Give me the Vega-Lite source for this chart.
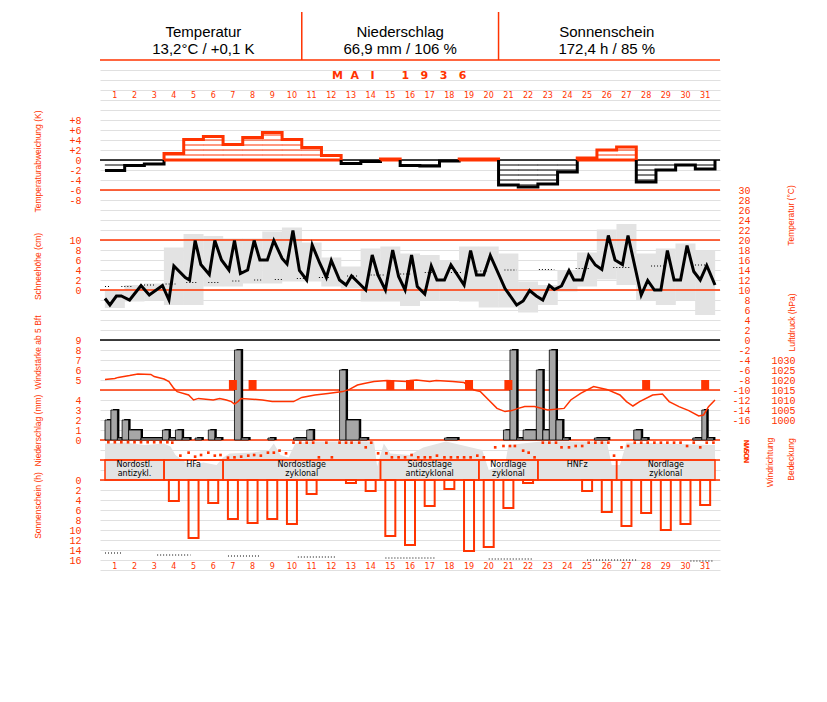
{
"$schema": "https://vega.github.io/schema/vega-lite/v6.json",
"width": 620, "height": 568,
"autosize": {"type": "none"},
"padding": {"left": 100, "top": 12, "right": 107, "bottom": 122},
"background": "white",
"config": {
  "view": {"stroke": null},
  "axis": {"domain": false, "ticks": false, "tickSize": 0, "grid": false, "labelColor": "#ff3300", "labelFont": "Liberation Mono", "labelFontSize": 10, "labelOverlap": false, "labelFlush": false, "labelBound": false, "labelPadding": 19, "titleColor": "#ff3300", "titleFont": "Liberation Sans Narrow, Liberation Sans", "titleFontSize": 8.5, "titleFontWeight": "normal", "titleAlign": "center", "titleBaseline": "middle"}
},
"resolve": {"scale": {"y": "independent", "color": "independent"}},
"datasets": {
  "days": [
    {"day":1,"anom":-2.1,"sun":0,"lo":6.4,"hi":10},{"day":2,"anom":-1.1,"sun":0,"lo":7.7,"hi":11},{"day":3,"anom":-0.8,"sun":0,"lo":8,"hi":11.3},
    {"day":4,"anom":1.3,"sun":4.2,"lo":7,"hi":18.5},{"day":5,"anom":4.1,"sun":11.6,"lo":7,"hi":21.2},{"day":6,"anom":4.7,"sun":4.6,"lo":10.7,"hi":20.8},
    {"day":7,"anom":3.1,"sun":7.8,"lo":10.7,"hi":20.3},{"day":8,"anom":4.5,"sun":8.6,"lo":11.3,"hi":20.3},{"day":9,"anom":5.5,"sun":7.8,"lo":11.3,"hi":21.7},
    {"day":10,"anom":4.1,"sun":8.8,"lo":11.7,"hi":22.5},{"day":11,"anom":2.5,"sun":2.8,"lo":11.7,"hi":19.5},{"day":12,"anom":0.9,"sun":0,"lo":10.7,"hi":16.5},
    {"day":13,"anom":-0.7,"sun":0.6,"lo":10.3,"hi":14.7},{"day":14,"anom":-0.3,"sun":2.2,"lo":7.7,"hi":18.3},{"day":15,"anom":0.2,"sun":11.2,"lo":7.7,"hi":18.7},
    {"day":16,"anom":-1.1,"sun":13,"lo":6.8,"hi":17.3},{"day":17,"anom":-1.2,"sun":5.2,"lo":8,"hi":17},{"day":18,"anom":-0.2,"sun":1.8,"lo":8,"hi":16},
    {"day":19,"anom":0.2,"sun":14.2,"lo":7.7,"hi":18.7},{"day":20,"anom":0.2,"sun":13.4,"lo":6.5,"hi":18.7},{"day":21,"anom":-5,"sun":5.6,"lo":6.5,"hi":17.3},
    {"day":22,"anom":-5.4,"sun":0.6,"lo":5.5,"hi":11.7},{"day":23,"anom":-4.8,"sun":0,"lo":7,"hi":11},{"day":24,"anom":-2.4,"sun":0,"lo":9.7,"hi":14},
    {"day":25,"anom":0.4,"sun":2.2,"lo":10.7,"hi":17.5},{"day":26,"anom":2,"sun":6.4,"lo":12.1,"hi":22.1},{"day":27,"anom":2.6,"sun":9.2,"lo":11,"hi":23.2},
    {"day":28,"anom":-4.4,"sun":6.6,"lo":8,"hi":17.3},{"day":29,"anom":-2,"sun":10,"lo":7,"hi":18.3},{"day":30,"anom":-1,"sun":8.8,"lo":8,"hi":19.3},
    {"day":31,"anom":-1.8,"sun":5,"lo":5,"hi":17.9}
  ],
  "temp": [
    {"t":0.5,"T":8.3},{"t":0.75,"T":7.0},{"t":1.08,"T":8.8},{"t":1.33,"T":8.8},{"t":1.75,"T":8.0},{"t":2.33,"T":10.9},{"t":2.75,"T":9.0},{"t":3.42,"T":10.9},{"t":3.75,"T":8.0},
    {"t":4.0,"T":14.8},{"t":4.58,"T":12.5},{"t":4.8,"T":12.0},{"t":5.08,"T":19.9},{"t":5.37,"T":15.1},{"t":5.8,"T":13.1},{"t":6.08,"T":19.9},{"t":6.42,"T":16},{"t":6.8,"T":14},
    {"t":7.08,"T":19.9},{"t":7.38,"T":13.3},{"t":7.75,"T":14},{"t":8.08,"T":19.9},{"t":8.37,"T":16},{"t":8.75,"T":16},{"t":9.08,"T":19.9},{"t":9.5,"T":16.3},{"t":9.75,"T":15.2},
    {"t":10.05,"T":21.9},{"t":10.38,"T":13.9},{"t":10.75,"T":12},{"t":11.03,"T":19},{"t":11.42,"T":15.3},{"t":11.75,"T":12.5},{"t":12.0,"T":15.9},{"t":12.42,"T":12},{"t":12.75,"T":11},
    {"t":13.03,"T":12.8},{"t":13.42,"T":11.3},{"t":13.75,"T":10},{"t":14.08,"T":17},{"t":14.37,"T":13},{"t":14.75,"T":10},{"t":15.12,"T":18},{"t":15.42,"T":12.7},{"t":15.75,"T":10},
    {"t":16.08,"T":17},{"t":16.37,"T":10.7},{"t":16.75,"T":9.2},{"t":17.08,"T":14.8},{"t":17.37,"T":12},{"t":17.75,"T":12},{"t":18.08,"T":15},{"t":18.75,"T":11},{"t":19.08,"T":17.9},
    {"t":19.38,"T":13},{"t":19.75,"T":13},{"t":20.08,"T":16.9},{"t":20.83,"T":10.3},{"t":21.42,"T":7},{"t":21.75,"T":7.8},{"t":22.08,"T":9.9},{"t":22.42,"T":8.8},{"t":22.75,"T":8},
    {"t":23.08,"T":10.9},{"t":23.33,"T":10.1},{"t":23.7,"T":10.8},{"t":24.08,"T":13.9},{"t":24.33,"T":12},{"t":24.75,"T":12},{"t":25.08,"T":16.9},{"t":25.42,"T":15},{"t":25.75,"T":14.1},
    {"t":26.08,"T":20.9},{"t":26.42,"T":16},{"t":26.8,"T":15.1},{"t":27.08,"T":20.9},{"t":27.75,"T":9},{"t":28.08,"T":11.9},{"t":28.42,"T":10},{"t":28.75,"T":10},{"t":29.08,"T":17.9},
    {"t":29.42,"T":12},{"t":29.75,"T":12},{"t":30.08,"T":18.9},{"t":30.42,"T":13.7},{"t":30.75,"T":12},{"t":31.08,"T":14.9},{"t":31.5,"T":11}
  ],
  "tmean": [
    {"t0":0.5,"t1":0.75,"T":10.7},{"t0":1.33,"t1":1.92,"T":10.7},{"t0":2.33,"t1":3.0,"T":11},{"t0":3.58,"t1":4.08,"T":11.2},{"t0":4.63,"t1":5.22,"T":11.5},{"t0":5.75,"t1":6.3,"T":11.5},
    {"t0":6.97,"t1":7.37,"T":11.8},{"t0":8.08,"t1":8.5,"T":12},{"t0":9.13,"t1":9.58,"T":12.1},{"t0":10.25,"t1":10.67,"T":12.3},{"t0":11.37,"t1":11.92,"T":12.5},{"t0":12.8,"t1":13.33,"T":12.8},
    {"t0":14.0,"t1":14.75,"T":13},{"t0":15.5,"t1":16.08,"T":13.2},{"t0":16.75,"t1":17.33,"T":13.5},{"t0":18.08,"t1":18.67,"T":13.5},{"t0":19.42,"t1":19.92,"T":13.8},{"t0":20.8,"t1":21.42,"T":14},
    {"t0":22.55,"t1":23.33,"T":14.1},{"t0":24.42,"t1":25.08,"T":14.3},{"t0":26.33,"t1":27.17,"T":14.5},{"t0":28.25,"t1":28.92,"T":14.8},{"t0":30.33,"t1":31.0,"T":15}
  ],
  "aseg": [
    {"seg":"A","sign":"neg","o":1,"t":0.5,"v":-2.1},{"seg":"A","sign":"neg","o":2,"t":1.5,"v":-1.1},{"seg":"A","sign":"neg","o":3,"t":2.5,"v":-0.8},{"seg":"A","sign":"neg","o":4,"t":3.5,"v":0},
    {"seg":"B","sign":"pos","o":1,"t":3.5,"v":0},{"seg":"B","sign":"pos","o":2,"t":3.5,"v":1.3},{"seg":"B","sign":"pos","o":3,"t":4.5,"v":4.1},{"seg":"B","sign":"pos","o":4,"t":5.5,"v":4.7},
    {"seg":"B","sign":"pos","o":5,"t":6.5,"v":3.1},{"seg":"B","sign":"pos","o":6,"t":7.5,"v":4.5},{"seg":"B","sign":"pos","o":7,"t":8.5,"v":5.5},{"seg":"B","sign":"pos","o":8,"t":9.5,"v":4.1},
    {"seg":"B","sign":"pos","o":9,"t":10.5,"v":2.5},{"seg":"B","sign":"pos","o":10,"t":11.5,"v":0.9},{"seg":"B","sign":"pos","o":11,"t":12.5,"v":0},{"seg":"B","sign":"pos","o":12,"t":3.5,"v":0},
    {"seg":"C","sign":"neg","o":1,"t":12.5,"v":0},{"seg":"C","sign":"neg","o":2,"t":12.5,"v":-0.7},{"seg":"C","sign":"neg","o":3,"t":13.5,"v":-0.3},{"seg":"C","sign":"neg","o":4,"t":14.5,"v":0},
    {"seg":"D","sign":"pos","o":1,"t":14.5,"v":0},{"seg":"D","sign":"pos","o":2,"t":14.5,"v":0.2},{"seg":"D","sign":"pos","o":3,"t":15.5,"v":0},{"seg":"D","sign":"pos","o":4,"t":14.5,"v":0},
    {"seg":"E","sign":"neg","o":1,"t":15.5,"v":0},{"seg":"E","sign":"neg","o":2,"t":15.5,"v":-1.1},{"seg":"E","sign":"neg","o":3,"t":16.5,"v":-1.2},{"seg":"E","sign":"neg","o":4,"t":17.5,"v":-0.2},{"seg":"E","sign":"neg","o":5,"t":18.5,"v":0},
    {"seg":"F","sign":"pos","o":1,"t":18.5,"v":0},{"seg":"F","sign":"pos","o":2,"t":18.5,"v":0.2},{"seg":"F","sign":"pos","o":3,"t":20.5,"v":0},{"seg":"F","sign":"pos","o":4,"t":18.5,"v":0},
    {"seg":"G","sign":"neg","o":1,"t":20.5,"v":0},{"seg":"G","sign":"neg","o":2,"t":20.5,"v":-5},{"seg":"G","sign":"neg","o":3,"t":21.5,"v":-5.4},{"seg":"G","sign":"neg","o":4,"t":22.5,"v":-4.8},{"seg":"G","sign":"neg","o":5,"t":23.5,"v":-2.4},{"seg":"G","sign":"neg","o":6,"t":24.5,"v":0},
    {"seg":"H","sign":"pos","o":1,"t":24.5,"v":0},{"seg":"H","sign":"pos","o":2,"t":24.5,"v":0.4},{"seg":"H","sign":"pos","o":3,"t":25.5,"v":2},{"seg":"H","sign":"pos","o":4,"t":26.5,"v":2.6},{"seg":"H","sign":"pos","o":5,"t":27.5,"v":0},{"seg":"H","sign":"pos","o":6,"t":24.5,"v":0},
    {"seg":"I","sign":"neg","o":1,"t":27.5,"v":0},{"seg":"I","sign":"neg","o":2,"t":27.5,"v":-4.4},{"seg":"I","sign":"neg","o":3,"t":28.5,"v":-2},{"seg":"I","sign":"neg","o":4,"t":29.5,"v":-1},{"seg":"I","sign":"neg","o":5,"t":30.5,"v":-1.8},{"seg":"I","sign":"neg","o":6,"t":31.5,"v":0}
  ],
  "hatch": [
    {"day":1,"k":-1,"sign":"neg"},{"day":1,"k":-2,"sign":"neg"},{"day":2,"k":-1,"sign":"neg"},
    {"day":4,"k":1,"sign":"pos"},
    {"day":5,"k":1,"sign":"pos"},{"day":5,"k":2,"sign":"pos"},{"day":5,"k":3,"sign":"pos"},{"day":5,"k":4,"sign":"pos"},
    {"day":6,"k":1,"sign":"pos"},{"day":6,"k":2,"sign":"pos"},{"day":6,"k":3,"sign":"pos"},{"day":6,"k":4,"sign":"pos"},
    {"day":7,"k":1,"sign":"pos"},{"day":7,"k":2,"sign":"pos"},{"day":7,"k":3,"sign":"pos"},
    {"day":8,"k":1,"sign":"pos"},{"day":8,"k":2,"sign":"pos"},{"day":8,"k":3,"sign":"pos"},{"day":8,"k":4,"sign":"pos"},
    {"day":9,"k":1,"sign":"pos"},{"day":9,"k":2,"sign":"pos"},{"day":9,"k":3,"sign":"pos"},{"day":9,"k":4,"sign":"pos"},{"day":9,"k":5,"sign":"pos"},
    {"day":10,"k":1,"sign":"pos"},{"day":10,"k":2,"sign":"pos"},{"day":10,"k":3,"sign":"pos"},{"day":10,"k":4,"sign":"pos"},
    {"day":11,"k":1,"sign":"pos"},{"day":11,"k":2,"sign":"pos"},
    {"day":16,"k":-1,"sign":"neg"},{"day":17,"k":-1,"sign":"neg"},
    {"day":21,"k":-1,"sign":"neg"},{"day":21,"k":-2,"sign":"neg"},{"day":21,"k":-3,"sign":"neg"},{"day":21,"k":-4,"sign":"neg"},
    {"day":22,"k":-1,"sign":"neg"},{"day":22,"k":-2,"sign":"neg"},{"day":22,"k":-3,"sign":"neg"},{"day":22,"k":-4,"sign":"neg"},{"day":22,"k":-5,"sign":"neg"},
    {"day":23,"k":-1,"sign":"neg"},{"day":23,"k":-2,"sign":"neg"},{"day":23,"k":-3,"sign":"neg"},{"day":23,"k":-4,"sign":"neg"},
    {"day":24,"k":-1,"sign":"neg"},{"day":24,"k":-2,"sign":"neg"},
    {"day":26,"k":1,"sign":"pos"},{"day":27,"k":1,"sign":"pos"},{"day":27,"k":2,"sign":"pos"},
    {"day":28,"k":-1,"sign":"neg"},{"day":28,"k":-2,"sign":"neg"},{"day":28,"k":-3,"sign":"neg"},{"day":28,"k":-4,"sign":"neg"},
    {"day":29,"k":-1,"sign":"neg"},{"day":31,"k":-1,"sign":"neg"}
  ],
  "hlines": [
    {"T":56,"kind":"panel"},{"T":36,"kind":"zero"},{"T":30,"kind":"panel"},{"T":0,"kind":"zero"},{"T":-10,"kind":"panel"},{"T":-20,"kind":"panel"},{"T":-24,"kind":"panel"},{"T":-28,"kind":"panel"}
  ],
  "pres": [
    {"t":0.5,"p":1020.3},{"t":1.0,"p":1020.8},{"t":1.17,"p":1021.3},{"t":1.75,"p":1022.2},{"t":2.17,"p":1023},{"t":2.83,"p":1022.8},{"t":3.0,"p":1021.7},{"t":3.5,"p":1020.5},
    {"t":3.75,"p":1019.2},{"t":4.0,"p":1015.8},{"t":4.17,"p":1014.2},{"t":4.75,"p":1012.5},{"t":5.0,"p":1010},{"t":5.25,"p":1010.8},{"t":6.0,"p":1010},{"t":6.33,"p":1010.8},
    {"t":6.67,"p":1010},{"t":6.92,"p":1009.2},{"t":7.08,"p":1008},{"t":7.25,"p":1009.2},{"t":7.42,"p":1010.8},{"t":8.5,"p":1010},{"t":9.0,"p":1009.2},{"t":9.5,"p":1009.2},
    {"t":10.08,"p":1009.2},{"t":10.5,"p":1011.3},{"t":11.17,"p":1012.5},{"t":11.83,"p":1013.3},{"t":12.58,"p":1014.2},{"t":12.92,"p":1015.3},{"t":13.33,"p":1017.5},{"t":13.67,"p":1018.3},
    {"t":14.17,"p":1019.2},{"t":14.83,"p":1019.7},{"t":15.83,"p":1019.2},{"t":16.0,"p":1019.7},{"t":16.33,"p":1020},{"t":17.0,"p":1019.2},{"t":17.33,"p":1019.7},{"t":18.17,"p":1019.2},
    {"t":18.75,"p":1018.7},{"t":19.25,"p":1015},{"t":19.58,"p":1014.2},{"t":20.0,"p":1010},{"t":20.42,"p":1005.8},{"t":20.83,"p":1004.2},{"t":21.17,"p":1004.7},{"t":21.5,"p":1005.8},
    {"t":21.83,"p":1006.7},{"t":22.33,"p":1006.7},{"t":23.0,"p":1005},{"t":23.83,"p":1005.8},{"t":24.17,"p":1010},{"t":24.67,"p":1013.3},{"t":25.33,"p":1016.7},{"t":26.0,"p":1015.3},
    {"t":26.67,"p":1012.5},{"t":27.0,"p":1009.2},{"t":27.33,"p":1007},{"t":27.67,"p":1009.2},{"t":28.33,"p":1012.5},{"t":28.83,"p":1013},{"t":29.17,"p":1009.2},{"t":29.67,"p":1006.7},
    {"t":30.17,"p":1004.7},{"t":30.67,"p":1002},{"t":30.92,"p":1002.5},{"t":31.17,"p":1006.7},{"t":31.5,"p":1010}
  ],
  "wind": [
    {"day":7,"bft":5},{"day":8,"bft":5},{"day":15,"bft":5},{"day":16,"bft":5},{"day":19,"bft":5},{"day":21,"bft":5},{"day":28,"bft":5},{"day":31,"bft":5}
  ],
  "precip": [
    {"t0":0.5,"t1":0.8,"mm":2},{"t0":0.8,"t1":1.13,"mm":3},{"t0":1.13,"t1":1.37,"mm":0.2},{"t0":1.37,"t1":1.7,"mm":2},{"t0":1.7,"t1":2.33,"mm":1},{"t0":2.33,"t1":3.42,"mm":0.2},
    {"t0":3.42,"t1":3.75,"mm":1},{"t0":3.75,"t1":4.08,"mm":0.2},{"t0":4.08,"t1":4.42,"mm":1},{"t0":4.42,"t1":4.8,"mm":0.2},{"t0":5.08,"t1":5.42,"mm":0.2},{"t0":5.75,"t1":6.08,"mm":1},
    {"t0":6.08,"t1":6.42,"mm":0.2},{"t0":7.08,"t1":7.42,"mm":9},{"t0":7.42,"t1":7.8,"mm":0.2},{"t0":8.78,"t1":9.12,"mm":0.2},{"t0":10.08,"t1":10.75,"mm":0.2},{"t0":10.75,"t1":11.08,"mm":1},
    {"t0":12.42,"t1":12.75,"mm":7},{"t0":12.75,"t1":13.42,"mm":2},{"t0":13.42,"t1":13.83,"mm":0.2},{"t0":17.75,"t1":18.42,"mm":0.2},{"t0":20.75,"t1":21.08,"mm":1},{"t0":21.08,"t1":21.42,"mm":9},
    {"t0":21.42,"t1":21.75,"mm":0.2},{"t0":21.75,"t1":22.42,"mm":1},{"t0":22.42,"t1":22.75,"mm":7},{"t0":22.75,"t1":23.08,"mm":1},{"t0":23.08,"t1":23.42,"mm":9},{"t0":23.42,"t1":23.75,"mm":2},
    {"t0":23.75,"t1":24.08,"mm":0.2},{"t0":25.37,"t1":26.08,"mm":0.2},{"t0":27.37,"t1":27.75,"mm":1},{"t0":27.75,"t1":28.08,"mm":0.2},{"t0":30.37,"t1":30.83,"mm":0.2},{"t0":30.83,"t1":31.08,"mm":3},
    {"t0":31.08,"t1":31.42,"mm":0.2}
  ],
  "wdir": [
    {"t":0.67,"deg":355},{"t":1.0,"deg":355},{"t":1.33,"deg":355},{"t":1.67,"deg":355},{"t":2.0,"deg":355},{"t":2.33,"deg":355},{"t":2.67,"deg":355},{"t":3.0,"deg":355},{"t":3.33,"deg":355},{"t":3.67,"deg":355},
    {"t":3.92,"deg":347},{"t":4.33,"deg":87},{"t":4.75,"deg":147},{"t":5.08,"deg":67},{"t":5.38,"deg":100},{"t":5.75,"deg":147},{"t":6.08,"deg":87},{"t":6.37,"deg":100},{"t":6.75,"deg":47},
    {"t":7.08,"deg":53},{"t":7.42,"deg":67},{"t":7.78,"deg":87},{"t":8.08,"deg":100},{"t":8.42,"deg":87},{"t":8.78,"deg":147},{"t":9.08,"deg":147},{"t":9.37,"deg":187},{"t":9.7,"deg":133},
    {"t":10.08,"deg":347},{"t":10.42,"deg":347},{"t":10.75,"deg":347},{"t":11.08,"deg":347},{"t":11.37,"deg":53},{"t":11.75,"deg":347},{"t":12.03,"deg":53},{"t":12.42,"deg":347},{"t":12.75,"deg":347},
    {"t":13.03,"deg":347},{"t":13.42,"deg":347},{"t":13.75,"deg":253},{"t":14.03,"deg":347},{"t":14.38,"deg":133},{"t":14.8,"deg":133},{"t":15.08,"deg":53},{"t":15.42,"deg":53},{"t":15.75,"deg":53},
    {"t":16.08,"deg":100},{"t":16.42,"deg":53},{"t":16.75,"deg":53},{"t":17.03,"deg":53},{"t":17.37,"deg":87},{"t":17.75,"deg":53},{"t":18.08,"deg":53},{"t":18.42,"deg":53},{"t":18.75,"deg":53},
    {"t":19.08,"deg":53},{"t":19.42,"deg":87},{"t":19.75,"deg":53},{"t":20.33,"deg":253},{"t":20.75,"deg":280},{"t":21.08,"deg":280},{"t":21.33,"deg":280},{"t":21.75,"deg":187},{"t":22.03,"deg":147},
    {"t":22.33,"deg":53},{"t":22.75,"deg":347},{"t":23.08,"deg":347},{"t":23.42,"deg":347},{"t":23.7,"deg":253},{"t":24.08,"deg":253},{"t":24.42,"deg":280},{"t":24.75,"deg":280},{"t":25.08,"deg":347},
    {"t":25.42,"deg":347},{"t":25.75,"deg":347},{"t":26.08,"deg":347},{"t":26.37,"deg":87},{"t":26.75,"deg":253},{"t":27.08,"deg":280},{"t":27.42,"deg":347},{"t":27.75,"deg":347},{"t":28.08,"deg":347},
    {"t":28.42,"deg":347},{"t":28.75,"deg":347},{"t":29.08,"deg":347},{"t":29.42,"deg":347},{"t":29.75,"deg":347},{"t":30.08,"deg":280},{"t":30.42,"deg":347},{"t":30.75,"deg":253},{"t":31.08,"deg":347},{"t":31.42,"deg":347}
  ],
  "cloud": [
    {"t":0.5,"c":7.3},{"t":1.5,"c":7.5},{"t":2.5,"c":7},{"t":3.5,"c":7.3},{"t":3.83,"c":6.7},{"t":4.08,"c":5},{"t":4.42,"c":4},{"t":4.83,"c":3},{"t":5.5,"c":3.5},{"t":6.17,"c":3},
    {"t":6.5,"c":4.5},{"t":6.83,"c":5.3},{"t":8,"c":5.5},{"t":8.83,"c":6},{"t":9.08,"c":7.3},{"t":9.42,"c":5},{"t":9.83,"c":4.5},{"t":10.17,"c":7.3},{"t":10.83,"c":7.7},{"t":14.17,"c":7.7},
    {"t":14.33,"c":2.7},{"t":14.67,"c":7.3},{"t":15,"c":5.3},{"t":16,"c":5},{"t":16.67,"c":6.5},{"t":17.83,"c":7.7},{"t":19.67,"c":6},{"t":20,"c":2},{"t":20.83,"c":3},{"t":21,"c":7},
    {"t":22.67,"c":7.7},{"t":26,"c":7.7},{"t":26.25,"c":3},{"t":26.67,"c":3},{"t":27,"c":7.5},{"t":31.5,"c":7}
  ],
  "sundots": [
    {"t0":0.5,"t1":1.4,"h":14.6},{"t0":3.15,"t1":4.85,"h":15.0},{"t0":6.75,"t1":8.4,"h":15.2},{"t0":10.3,"t1":12.25,"h":15.4},{"t0":14.75,"t1":17.25,"h":15.6},{"t0":20.0,"t1":22.25,"h":15.8},{"t0":25.0,"t1":27.5,"h":16.0},{"t0":30.25,"t1":31.4,"h":16.2}
  ],
  "wtype": [
    {"start":0.5,"end":3.5,"mid":2,"l1":"Nordostl.","l2":"antizykl."},
    {"start":3.5,"end":6.5,"mid":5,"l1":"HFa","l2":""},
    {"start":6.5,"end":14.5,"mid":10.5,"l1":"Nordostlage","l2":"zyklonal"},
    {"start":14.5,"end":19.5,"mid":17,"l1":"Südostlage","l2":"antizyklonal"},
    {"start":19.5,"end":22.5,"mid":21,"l1":"Nordlage","l2":"zyklonal"},
    {"start":22.5,"end":26.5,"mid":24.5,"l1":"HNFz","l2":""},
    {"start":26.5,"end":31.5,"mid":29,"l1":"Nordlage","l2":"zyklonal"}
  ],
  "header": [
    {"mid":5.5,"l1":"Temperatur","l2":"13,2°C / +0,1 K"},
    {"mid":15.5,"l1":"Niederschlag","l2":"66,9 mm / 106 %"},
    {"mid":26,"l1":"Sonnenschein","l2":"172,4 h / 85 %"}
  ],
  "hsep": [{"t":10.5},{"t":20.5}],
  "title": [{"label":"M\u00a0\u00a0A\u00a0\u00a0\u00a0I\u00a0\u00a0\u00a0\u00a0\u00a0\u00a0\u00a01\u00a0\u00a0\u00a09\u00a0\u00a0\u00a03\u00a0\u00a0\u00a06","mid":15.45}]
},
"layer": [
  {"data": {"name": "cloud"}, "mark": {"type": "area", "color": "#e3e3e3"},
   "encoding": {
     "x": {"field": "t", "type": "quantitative", "scale": {"domain": [0.5, 31.5], "nice": false, "zero": false},
           "axis": {"values": [1.5,2.5,3.5,4.5,5.5,6.5,7.5,8.5,9.5,10.5,11.5,12.5,13.5,14.5,15.5,16.5,17.5,18.5,19.5,20.5,21.5,22.5,23.5,24.5,25.5,26.5,27.5,28.5,29.5,30.5], "grid": true, "gridColor": "#e0e0e0", "gridWidth": 1, "labels": false, "title": null}},
     "y": {"field": "c", "type": "quantitative", "scale": {"domain": [-20, 93.6], "nice": false, "zero": false},
           "axis": {"orient": "right", "values": [], "title": "Bedeckung", "titleX": 70, "titleY": 447, "titleAngle": 270}},
     "y2": {"datum": 0}}},
  {"data": {"name": "days"}, "mark": {"type": "bar", "color": "#e3e3e3", "width": 20},
   "encoding": {
     "x": {"field": "day", "type": "quantitative", "scale": {"domain": [0.5, 31.5], "nice": false, "zero": false}, "axis": null},
     "y": {"field": "lo", "type": "quantitative", "scale": {"domain": [-48, 65.6], "nice": false, "zero": false}, "axis": null},
     "y2": {"field": "hi"}}},
  {"data": {"name": "tmean"}, "mark": {"type": "rule", "color": "black", "strokeWidth": 1, "strokeDash": [1, 2]},
   "encoding": {
     "x": {"field": "t0", "type": "quantitative", "scale": {"domain": [0.5, 31.5], "nice": false, "zero": false}, "axis": null},
     "x2": {"field": "t1"},
     "y": {"field": "T", "type": "quantitative", "scale": {"domain": [-48, 65.6], "nice": false, "zero": false}, "axis": null}}},
  {"data": {"name": "hlines"}, "mark": {"type": "rule", "strokeWidth": 1.5},
   "encoding": {
     "y": {"field": "T", "type": "quantitative", "scale": {"domain": [-48, 65.6], "nice": false, "zero": false}, "axis": null},
     "color": {"field": "kind", "type": "nominal", "scale": {"domain": ["panel", "zero"], "range": ["#ff3300", "#000000"]}, "legend": null}}},
  {"data": {"values": [{"cm": 0}, {"cm": 10}]}, "mark": {"type": "rule", "strokeWidth": 1.5, "color": "#ff3300"},
   "encoding": {
     "y": {"field": "cm", "type": "quantitative", "scale": {"domain": [-58, 55.6], "nice": false, "zero": false},
           "axis": {"orient": "left", "values": [0, 2, 4, 6, 8, 10], "title": "Schneehöhe (cm)", "titleX": -63, "titleY": 254}}}},
  {"data": {"name": "hatch"}, "mark": {"type": "rule", "strokeWidth": 1, "xOffset": -10, "x2Offset": 10},
   "encoding": {
     "x": {"field": "day", "type": "quantitative", "scale": {"domain": [0.5, 31.5], "nice": false, "zero": false}, "axis": null},
     "x2": {"field": "day"},
     "y": {"field": "k", "type": "quantitative", "scale": {"domain": [-84, 29.6], "nice": false, "zero": false}, "axis": null},
     "color": {"field": "sign", "type": "nominal", "scale": {"domain": ["neg", "pos"], "range": ["#000000", "#ff3300"]}, "legend": null}}},
  {"data": {"name": "aseg"}, "mark": {"type": "line", "interpolate": "step-after", "strokeWidth": 3},
   "encoding": {
     "x": {"field": "t", "type": "quantitative", "scale": {"domain": [0.5, 31.5], "nice": false, "zero": false}, "axis": null},
     "y": {"field": "v", "type": "quantitative", "scale": {"domain": [-84, 29.6], "nice": false, "zero": false},
           "axis": {"orient": "left", "values": [-8, -6, -4, -2, 0, 2, 4, 6, 8], "labelExpr": "datum.value > 0 ? '+' + datum.value : (datum.value < 0 ? '-' + abs(datum.value) : '0')", "title": "Temperaturabweichung (K)", "titleX": -63, "titleY": 149}},
     "detail": {"field": "seg"},
     "order": {"field": "o"},
     "color": {"field": "sign", "type": "nominal", "scale": {"domain": ["neg", "pos"], "range": ["#000000", "#ff3300"]}, "legend": null}}},
  {"data": {"name": "sundots"}, "mark": {"type": "rule", "color": "black", "strokeWidth": 1, "strokeDash": [1, 2]},
   "encoding": {
     "x": {"field": "t0", "type": "quantitative", "scale": {"domain": [0.5, 31.5], "nice": false, "zero": false}, "axis": null},
     "x2": {"field": "t1"},
     "y": {"field": "h", "type": "quantitative", "scale": {"domain": [-93.6, 20], "nice": false, "zero": false, "reverse": true}, "axis": null}}},
  {"data": {"name": "days"}, "transform": [{"filter": "datum.sun > 0"}],
   "mark": {"type": "bar", "filled": false, "color": "#ff3300", "strokeWidth": 2, "width": 10},
   "encoding": {
     "x": {"field": "day", "type": "quantitative", "scale": {"domain": [0.5, 31.5], "nice": false, "zero": false}, "axis": null},
     "y": {"field": "sun", "type": "quantitative", "scale": {"domain": [-93.6, 20], "nice": false, "zero": false, "reverse": true},
           "axis": {"orient": "left", "values": [0, 2, 4, 6, 8, 10, 12, 14, 16], "title": "Sonnenschein (h)", "titleX": -63, "titleY": 493}},
     "y2": {"datum": 0}}},
  {"data": {"name": "precip"}, "mark": {"type": "rect", "color": "black", "xOffset": 2, "x2Offset": 2, "yOffset": -1},
   "encoding": {
     "x": {"field": "t0", "type": "quantitative", "scale": {"domain": [0.5, 31.5], "nice": false, "zero": false}, "axis": null},
     "x2": {"field": "t1"},
     "y": {"field": "mm", "type": "quantitative", "scale": {"domain": [-14, 42.8], "nice": false, "zero": false}, "axis": null},
     "y2": {"datum": 0}}},
  {"data": {"name": "precip"}, "mark": {"type": "rect", "fill": "#a6a6a6", "stroke": "black", "strokeWidth": 0.8},
   "encoding": {
     "x": {"field": "t0", "type": "quantitative", "scale": {"domain": [0.5, 31.5], "nice": false, "zero": false}, "axis": null},
     "x2": {"field": "t1"},
     "y": {"field": "mm", "type": "quantitative", "scale": {"domain": [-14, 42.8], "nice": false, "zero": false},
           "axis": {"orient": "left", "values": [0, 1, 2, 3, 4], "title": "Niederschlag (mm)", "titleX": -63, "titleY": 418}},
     "y2": {"datum": 0}}},
  {"data": {"name": "wind"}, "mark": {"type": "bar", "color": "#ff3300", "width": 8},
   "encoding": {
     "x": {"field": "day", "type": "quantitative", "scale": {"domain": [0.5, 31.5], "nice": false, "zero": false}, "axis": null},
     "y": {"field": "bft", "type": "quantitative", "scale": {"domain": [-15, 41.8], "nice": false, "zero": false},
           "axis": {"orient": "left", "values": [5, 6, 7, 8, 9], "title": "Windstärke ab 5 Bft", "titleX": -63, "titleY": 340}},
     "y2": {"datum": 4}}},
  {"data": {"name": "pres"}, "mark": {"type": "line", "color": "#ff3300", "strokeWidth": 1.5},
   "encoding": {
     "x": {"field": "t", "type": "quantitative", "scale": {"domain": [0.5, 31.5], "nice": false, "zero": false}, "axis": null},
     "y": {"field": "p", "type": "quantitative", "scale": {"domain": [920, 1204], "nice": false, "zero": false},
           "axis": {"orient": "right", "values": [1000, 1005, 1010, 1015, 1020, 1025, 1030], "format": "d", "labelAlign": "right", "labelPadding": 75, "title": "Luftdruck (hPa)", "titleX": 71, "titleY": 310, "titleAngle": 270}}}},
  {"data": {"name": "temp"}, "mark": {"type": "line", "color": "black", "strokeWidth": 3},
   "encoding": {
     "x": {"field": "t", "type": "quantitative", "scale": {"domain": [0.5, 31.5], "nice": false, "zero": false}, "axis": null},
     "y": {"field": "T", "type": "quantitative", "scale": {"domain": [-48, 65.6], "nice": false, "zero": false},
           "axis": {"orient": "right", "values": [-46,-44,-42,-40,-38,-36,-34,-32,-30,-28,-26,-24,-22,-20,-18,-16,-14,-12,-10,-8,-6,-4,-2,0,2,4,6,8,10,12,14,16,18,20,22,24,26,28,30,32,34,36,38,40,42,44,46,48,50,52,54],
                    "grid": true, "gridColor": "#e0e0e0", "gridWidth": 1,
                    "labelExpr": "(datum.value <= 30 && datum.value >= -16) ? (datum.value < 0 ? '-' + abs(datum.value) : '' + datum.value) : ''",
                    "labelAlign": "right", "labelPadding": 30, "title": "Temperatur (°C)", "titleX": 70, "titleY": 203, "titleAngle": 270}}}},
  {"data": {"name": "wdir"}, "mark": {"type": "square", "color": "#ff3300", "filled": true, "size": 7, "opacity": 1},
   "encoding": {
     "x": {"field": "t", "type": "quantitative", "scale": {"domain": [0.5, 31.5], "nice": false, "zero": false}, "axis": null},
     "y": {"field": "deg", "type": "quantitative", "scale": {"domain": [-2400, 8960], "nice": false, "zero": false},
           "axis": {"orient": "right", "values": [0, 90, 180, 270, 360], "labelExpr": "datum.value == 90 ? 'O' : (datum.value == 180 ? 'S' : (datum.value == 270 ? 'W' : 'N'))", "labelAngle": 90, "labelAlign": "center", "labelBaseline": "middle", "labelPadding": 25, "labelFontSize": 7, "labelFont": "DejaVu Sans", "labelFontWeight": "bold", "title": "Windrichtung", "titleX": 49, "titleY": 450, "titleAngle": 270}}}},
  {"data": {"name": "wtype"}, "mark": {"type": "rect", "fill": null, "stroke": "#ff3300", "strokeWidth": 1.5},
   "encoding": {
     "x": {"field": "start", "type": "quantitative", "scale": {"domain": [0.5, 31.5], "nice": false, "zero": false}, "axis": null},
     "x2": {"field": "end"},
     "y": {"datum": -24, "type": "quantitative", "scale": {"domain": [-48, 65.6], "nice": false, "zero": false}, "axis": null},
     "y2": {"datum": -28}}},
  {"data": {"name": "wtype"}, "mark": {"type": "text", "font": "DejaVu Sans", "fontSize": 8, "color": "black", "baseline": "middle"},
   "encoding": {
     "x": {"field": "mid", "type": "quantitative", "scale": {"domain": [0.5, 31.5], "nice": false, "zero": false}, "axis": null},
     "y": {"datum": -25.0, "type": "quantitative", "scale": {"domain": [-48, 65.6], "nice": false, "zero": false}, "axis": null},
     "text": {"field": "l1"}}},
  {"data": {"name": "wtype"}, "mark": {"type": "text", "font": "DejaVu Sans", "fontSize": 8, "color": "black", "baseline": "middle"},
   "encoding": {
     "x": {"field": "mid", "type": "quantitative", "scale": {"domain": [0.5, 31.5], "nice": false, "zero": false}, "axis": null},
     "y": {"datum": -26.85, "type": "quantitative", "scale": {"domain": [-48, 65.6], "nice": false, "zero": false}, "axis": null},
     "text": {"field": "l2"}}},
  {"mark": {"type": "rect", "fill": "white", "stroke": "#ff3300", "strokeWidth": 1.5},
   "encoding": {
     "x": {"datum": 0.5, "type": "quantitative", "scale": {"domain": [0.5, 31.5], "nice": false, "zero": false}, "axis": null},
     "x2": {"datum": 31.5},
     "y": {"datum": 56, "type": "quantitative", "scale": {"domain": [-48, 65.6], "nice": false, "zero": false}, "axis": null},
     "y2": {"datum": 65.6}}},
  {"data": {"name": "hsep"}, "mark": {"type": "rule", "color": "#ff3300", "strokeWidth": 1.5},
   "encoding": {
     "x": {"field": "t", "type": "quantitative", "scale": {"domain": [0.5, 31.5], "nice": false, "zero": false}, "axis": null},
     "y": {"datum": 56, "type": "quantitative", "scale": {"domain": [-48, 65.6], "nice": false, "zero": false}, "axis": null},
     "y2": {"datum": 65.6}}},
  {"data": {"name": "header"}, "mark": {"type": "text", "font": "Liberation Sans", "fontSize": 15, "color": "black", "baseline": "middle"},
   "encoding": {
     "x": {"field": "mid", "type": "quantitative", "scale": {"domain": [0.5, 31.5], "nice": false, "zero": false}, "axis": null},
     "y": {"datum": 61.7, "type": "quantitative", "scale": {"domain": [-48, 65.6], "nice": false, "zero": false}, "axis": null},
     "text": {"field": "l1"}}},
  {"data": {"name": "header"}, "mark": {"type": "text", "font": "Liberation Sans", "fontSize": 15, "color": "black", "baseline": "middle"},
   "encoding": {
     "x": {"field": "mid", "type": "quantitative", "scale": {"domain": [0.5, 31.5], "nice": false, "zero": false}, "axis": null},
     "y": {"datum": 58.2, "type": "quantitative", "scale": {"domain": [-48, 65.6], "nice": false, "zero": false}, "axis": null},
     "text": {"field": "l2"}}},
  {"data": {"name": "title"}, "mark": {"type": "text", "font": "DejaVu Sans", "fontWeight": "bold", "fontSize": 11, "color": "#ff3300", "baseline": "middle"},
   "encoding": {
     "x": {"field": "mid", "type": "quantitative", "scale": {"domain": [0.5, 31.5], "nice": false, "zero": false}, "axis": null},
     "y": {"datum": 52.9, "type": "quantitative", "scale": {"domain": [-48, 65.6], "nice": false, "zero": false}, "axis": null},
     "text": {"field": "label"}}},
  {"data": {"name": "days"}, "mark": {"type": "text", "font": "DejaVu Sans", "fontSize": 8, "color": "#ff3300", "baseline": "middle"},
   "encoding": {
     "x": {"field": "day", "type": "quantitative", "scale": {"domain": [0.5, 31.5], "nice": false, "zero": false}, "axis": null},
     "y": {"datum": 48.8, "type": "quantitative", "scale": {"domain": [-48, 65.6], "nice": false, "zero": false}, "axis": null},
     "text": {"field": "day", "type": "quantitative", "format": "d"}}},
  {"data": {"name": "days"}, "mark": {"type": "text", "font": "DejaVu Sans", "fontSize": 8, "color": "#ff3300", "baseline": "middle"},
   "encoding": {
     "x": {"field": "day", "type": "quantitative", "scale": {"domain": [0.5, 31.5], "nice": false, "zero": false}, "axis": null},
     "y": {"datum": -45.4, "type": "quantitative", "scale": {"domain": [-48, 65.6], "nice": false, "zero": false}, "axis": null},
     "text": {"field": "day", "type": "quantitative", "format": "d"}}},
  {"mark": {"type": "rect", "fill": null, "stroke": "#ff3300", "strokeWidth": 1.5},
   "encoding": {
     "x": {"datum": 0.5, "type": "quantitative", "scale": {"domain": [0.5, 31.5], "nice": false, "zero": false}, "axis": null},
     "x2": {"datum": 31.5},
     "y": {"datum": -48, "type": "quantitative", "scale": {"domain": [-48, 65.6], "nice": false, "zero": false}, "axis": null},
     "y2": {"datum": 65.6}}}
]
}
